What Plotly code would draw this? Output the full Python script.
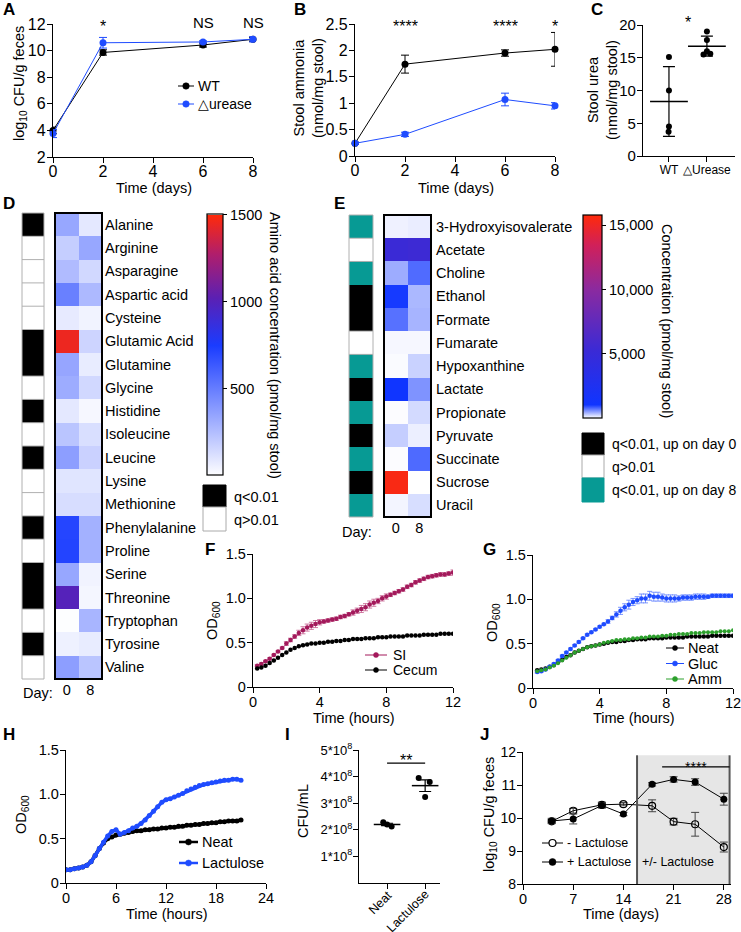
import plotly.graph_objects as go

W, H = 741, 932
FONT = "Arial, Liberation Sans, Helvetica, sans-serif"
BLUE = "#1f4cff"
MAROON = "#a3195b"
GREEN = "#2ca02c"
TEAL = "#079a94"

# ---------------- data ----------------
# A
days_A = [0, 2, 6, 8]
wt_A = [4.0, 9.86, 10.42, 10.85]
wt_A_err = [0.25, 0.2, 0.15, 0.15]
ure_A = [3.76, 10.59, 10.65, 10.85]
ure_A_err = [0.3, 0.4, 0.08, 0.2]
sig_A = ["*", "NS", "NS"]
sig_A_days = [2, 6, 8]

# B
days_B = [0, 2, 6, 8]
wt_B = [0.24, 1.74, 1.95, 2.02]
wt_B_err = [0.02, 0.17, 0.06, 0.32]
ure_B = [0.24, 0.41, 1.07, 0.95]
ure_B_err = [0.02, 0.04, 0.12, 0.06]
sig_B = ["****", "****", "*"]
sig_B_days = [2, 6, 8]

# C
groups_C = ["WT", "\u25b3Urease"]
wt_C = [15.1, 10.0, 4.5, 3.7]
ure_C = [19.0, 17.7, 16.0, 15.5, 15.6]
jit_C_wt = [0.0, 0.0, 0.0, -0.01]
jit_C_ure = [0.0, 0.0, 0.0, -0.09, 0.09]

# D
aa_names = ["Alanine", "Arginine", "Asparagine", "Aspartic acid", "Cysteine",
            "Glutamic Acid", "Glutamine", "Glycine", "Histidine", "Isoleucine",
            "Leucine", "Lysine", "Methionine", "Phenylalanine", "Proline",
            "Serine", "Threonine", "Tryptophan", "Tyrosine", "Valine"]
aa_day0 = [340, 190, 260, 490, 80, 1450, 345, 320, 90, 225,
           375, 100, 130, 715, 720, 340, 1000, 5, 55, 375]
aa_day8 = [90, 340, 150, 270, 45, 165, 75, 150, 30, 125,
           175, 100, 130, 300, 300, 45, 35, 285, 75, 225]
aa_sig = [1, 0, 0, 0, 0, 1, 1, 0, 1, 0, 1, 0, 0, 1, 0, 1, 1, 0, 1, 0]

# E
met_names = ["3-Hydroxyisovalerate", "Acetate", "Choline", "Ethanol", "Formate",
             "Fumarate", "Hypoxanthine", "Lactate", "Propionate", "Pyruvate",
             "Succinate", "Sucrose", "Uracil"]
met_day0 = [70, 5200, 420, 1000, 720, 40, 20, 1050, 15, 250, 15, 15500, 50]
met_day8 = [90, 5400, 750, 360, 380, 40, 230, 550, 190, 80, 760, 0, 170]
met_sig = [2, 0, 2, 1, 1, 0, 2, 1, 2, 1, 2, 1, 2]  # 0 q>0.01, 1 up day0, 2 up day8

# F / G time (hours)
t_FG = [0.25, 0.5, 0.75, 1.0, 1.25, 1.5, 1.75, 2.0, 2.25, 2.5, 2.75, 3.0,
        3.25, 3.5, 3.75, 4.0, 4.25, 4.5, 4.75, 5.0, 5.25, 5.5, 5.75, 6.0,
        6.25, 6.5, 6.75, 7.0, 7.25, 7.5, 7.75, 8.0, 8.25, 8.5, 8.75, 9.0,
        9.25, 9.5, 9.75, 10.0, 10.25, 10.5, 10.75, 11.0, 11.25, 11.5, 11.75, 12.0]
si_F = [.24, .26, .29, .32, .36, .40, .44, .49, .53, .57,
        .61, .64, .67, .69, .71, .73, .74, .75, .76, .77,
        .79, .80, .82, .84, .86, .88, .90, .93, .95, .97,
        1.00, 1.02, 1.04, 1.06, 1.08, 1.10, 1.13, 1.15, 1.18, 1.20,
        1.22, 1.24, 1.25, 1.26, 1.27, 1.27, 1.28, 1.29]
si_F_err = [.01, .01, .01, .01, .01, .01, .01, .02, .02, .02,
            .03, .04, .04, .04, .04, .03, .02, .02, .02, .02,
            .02, .02, .02, .03, .03, .04, .04, .04, .04, .03,
            .03, .03, .02, .02, .02, .02, .02, .02, .02, .02,
            .02, .02, .02, .02, .02, .02, .02, .03]
cec_F = [.21, .22, .24, .27, .30, .33, .36, .39, .42, .44,
         .46, .47, .48, .49, .49, .50, .50, .51, .51, .52,
         .52, .53, .53, .54, .54, .54, .55, .55, .55, .56,
         .56, .56, .57, .57, .57, .57, .58, .58, .58, .58,
         .59, .59, .59, .59, .60, .60, .60, .60]
neat_G = [.20, .21, .22, .24, .26, .29, .32, .35, .37, .40,
          .42, .44, .46, .47, .48, .49, .50, .51, .52, .52,
          .53, .53, .54, .54, .55, .55, .55, .56, .56, .56,
          .56, .57, .57, .57, .57, .57, .58, .58, .58, .58,
          .58, .58, .59, .59, .59, .59, .59, .59]
gluc_G = [.18, .19, .21, .24, .27, .31, .36, .40, .44, .48,
          .52, .56, .60, .63, .66, .69, .72, .75, .79, .83,
          .87, .91, .94, .97, .99, 1.01, 1.01, 1.04, 1.03, 1.03,
          1.02, 1.01, 1.01, 1.01, 1.01, 1.02, 1.02, 1.02, 1.03, 1.03,
          1.03, 1.03, 1.04, 1.04, 1.04, 1.04, 1.04, 1.04]
gluc_G_err = [.01, .01, .01, .01, .01, .01, .01, .01, .01, .01,
              .01, .01, .01, .01, .01, .01, .01, .02, .02, .03,
              .04, .04, .05, .04, .04, .05, .05, .05, .05, .05,
              .04, .04, .04, .04, .03, .03, .03, .03, .03, .03,
              .03, .02, .02, .02, .02, .02, .02, .02]
amm_G = [.19, .20, .21, .23, .25, .28, .31, .34, .37, .40,
         .42, .44, .46, .47, .48, .49, .51, .52, .53, .54,
         .54, .55, .55, .56, .56, .57, .57, .58, .58, .58,
         .59, .59, .60, .60, .61, .61, .61, .62, .62, .62,
         .63, .63, .63, .63, .64, .64, .64, .65]

# H
t_H = [0, 0.5, 1, 1.5, 2, 2.5, 3, 3.5, 4, 4.5, 5, 5.5, 6, 6.5, 7, 7.5, 8, 8.5,
       9, 9.5, 10, 10.5, 11, 11.5, 12, 12.5, 13, 13.5, 14, 14.5, 15, 15.5, 16,
       16.5, 17, 17.5, 18, 18.5, 19, 19.5, 20, 20.5, 21]
neat_H = [.15, .15, .16, .17, .18, .20, .24, .31, .39, .45,
          .50, .52, .54, .55, .56, .57, .58, .59, .59, .60,
          .60, .61, .61, .62, .62, .63, .63, .64, .64, .65,
          .65, .66, .66, .67, .67, .68, .68, .69, .69, .70,
          .70, .70, .71]
lac_H = [.15, .15, .16, .17, .18, .20, .24, .31, .39, .46,
         .53, .58, .60, .55, .57, .59, .62, .64, .67, .71,
         .76, .81, .86, .91, .94, .95, .97, .99, 1.01, 1.04,
         1.06, 1.08, 1.10, 1.11, 1.12, 1.13, 1.14, 1.15, 1.16, 1.16,
         1.17, 1.17, 1.16]

# I
groups_I = ["Neat", "Lactulose"]
neat_I = [2.28e8, 2.20e8, 2.12e8]
lac_I = [3.95e8, 3.80e8, 3.23e8]
jit_I_neat = [-0.1, 0.0, 0.12]
jit_I_lac = [-0.17, 0.12, 0.0]
ytick_I = [1e8, 2e8, 3e8, 4e8, 5e8]
ytext_I = ["1*10<sup>8</sup>", "2*10<sup>8</sup>", "3*10<sup>8</sup>",
           "4*10<sup>8</sup>", "5*10<sup>8</sup>"]

# J
days_J = [4, 7, 11, 14, 18, 21, 24, 28]
minus_J = [9.9, 10.22, 10.4, 10.42, 10.37, 9.89, 9.81, 9.12]
minus_J_err = [0.05, 0.07, 0.08, 0.05, 0.18, 0.1, 0.36, 0.15]
plus_J = [9.91, 9.97, 10.38, 10.12, 11.02, 11.17, 11.09, 10.57]
plus_J_err = [0.08, 0.15, 0.08, 0.05, 0.05, 0.08, 0.1, 0.18]
lactulose_period = [15.9, 28.8]
sig_J_span = [19.4, 28.8]

# ---------------- helpers ----------------
def PX(p):
    return p / W


def PY(p):
    return 1 - p / H


def dom_x(a, b):
    return [a / W, b / W]


def dom_y(top, bottom):
    return [1 - bottom / H, 1 - top / H]


def lin_axis(domain, rng, anchor, tickvals=None, tsize=14, standoff=-3, **kw):
    d = dict(domain=domain, range=rng, anchor=anchor, showline=True, linecolor="black",
             linewidth=1.3, ticks="outside", ticklen=5, tickwidth=1.3, tickcolor="black",
             showgrid=False, zeroline=False, automargin=False, ticklabeloverflow="allow",
             ticklabelstandoff=standoff, tickfont=dict(size=tsize, color="black"))
    if tickvals is not None:
        d["tickvals"] = tickvals
    d.update(kw)
    return d


def mean(v):
    return sum(v) / len(v)


def sd(v):
    m = mean(v)
    return (sum((a - m) ** 2 for a in v) / (len(v) - 1)) ** 0.5


fig = go.Figure()
annotations = []
shapes = []


def ann(text, x, y, size=14.5, bold=False, xanchor="center", yanchor="middle", angle=0, color="black"):
    annotations.append(dict(text=("<b>%s</b>" % text) if bold else text, x=PX(x), y=PY(y),
                            xref="paper", yref="paper", showarrow=False,
                            xanchor=xanchor, yanchor=yanchor, textangle=angle,
                            font=dict(size=size, color=color)))


def legend_entry(x0, x1, y, color, text, tx, size=14, msize=6.5, lw=1.0, open_=False):
    shapes.append(dict(type="line", xref="paper", yref="paper", x0=PX(x0), x1=PX(x1), y0=PY(y), y1=PY(y),
                       line=dict(color=color, width=lw)))
    cx = (x0 + x1) / 2
    r = msize / 2
    shapes.append(dict(type="circle", xref="paper", yref="paper", x0=PX(cx - r), x1=PX(cx + r),
                       y0=PY(y + r), y1=PY(y - r), fillcolor="white" if open_ else color,
                       line=dict(color=color, width=1.2 if open_ else 0.5)))
    ann(text, tx, y, size=size, xanchor="left")


# ---------------- A ----------------
fig.add_trace(go.Scatter(x=days_A, y=wt_A, mode="lines+markers", xaxis="x", yaxis="y",
                         line=dict(color="black", width=1), marker=dict(color="black", size=7),
                         error_y=dict(type="data", array=wt_A_err, color="black", thickness=1, width=4),
                         cliponaxis=False))
fig.add_trace(go.Scatter(x=days_A, y=ure_A, mode="lines+markers", xaxis="x", yaxis="y",
                         line=dict(color=BLUE, width=1), marker=dict(color=BLUE, size=7),
                         error_y=dict(type="data", array=ure_A_err, color=BLUE, thickness=1, width=4),
                         cliponaxis=False))
for d, s in zip(sig_A_days, sig_A):
    annotations.append(dict(text=s, x=d, y=PY(27 if s == "*" else 22), xref="x", yref="paper",
                            showarrow=False, yanchor="middle", font=dict(size=16 if s == "*" else 15)))
legend_entry(178, 194, 86, "black", "WT", 196, size=14)
legend_entry(178, 194, 104, BLUE, "\u25b3urease", 196, size=14)

# ---------------- B ----------------
fig.add_trace(go.Scatter(x=days_B, y=wt_B, mode="lines+markers", xaxis="x2", yaxis="y2",
                         line=dict(color="black", width=1), marker=dict(color="black", size=7),
                         error_y=dict(type="data", array=wt_B_err, color="black", thickness=1, width=4),
                         cliponaxis=False))
fig.add_trace(go.Scatter(x=days_B, y=ure_B, mode="lines+markers", xaxis="x2", yaxis="y2",
                         line=dict(color=BLUE, width=1), marker=dict(color=BLUE, size=7),
                         error_y=dict(type="data", array=ure_B_err, color=BLUE, thickness=1, width=4),
                         cliponaxis=False))
for d, s in zip(sig_B_days, sig_B):
    annotations.append(dict(text=s, x=d, y=PY(27), xref="x2", yref="paper", showarrow=False,
                            yanchor="middle", font=dict(size=16)))

# ---------------- C ----------------
for gi, (vals, jit) in enumerate([(wt_C, jit_C_wt), (ure_C, jit_C_ure)]):
    xc = gi + 1
    fig.add_trace(go.Scatter(x=[xc + j for j in jit], y=vals, mode="markers", xaxis="x3", yaxis="y3",
                             marker=dict(color="black", size=6), cliponaxis=False))
    fig.add_trace(go.Scatter(x=[xc], y=[mean(vals)], mode="markers", xaxis="x3", yaxis="y3",
                             marker=dict(symbol="line-ew", size=27, color="black",
                                         line=dict(width=1.5, color="black")),
                             error_y=dict(type="data", array=[sd(vals)], color="black", thickness=1.2, width=6)))
shapes.append(dict(type="line", xref="x3", yref="y3", x0=1, x1=2, y0=20.3, y1=20.3,
                   line=dict(color="black", width=1.2)))
annotations.append(dict(text="*", x=1.5, y=PY(22), xref="x3", yref="paper", showarrow=False,
                        yanchor="middle", font=dict(size=16)))

# ---------------- D heatmap ----------------
DSCALE = [[0, "#ffffff"], [0.5, "#1a3cff"], [0.68, "#5a20b4"], [0.85, "#b01e6c"], [1, "#ff2a0a"]]
fig.add_trace(go.Heatmap(z=[[c] for c in aa_sig], x=[0], y=list(range(len(aa_names))),
                         xaxis="x4", yaxis="y4", zmin=0, zmax=1, showscale=False,
                         colorscale=[[0, "white"], [0.5, "white"], [0.5, "black"], [1, "black"]]))
fig.add_trace(go.Heatmap(z=[[a, b] for a, b in zip(aa_day0, aa_day8)], x=["0", "8"], y=aa_names,
                         xaxis="x5", yaxis="y5", zmin=0, zmax=1500, colorscale=DSCALE,
                         colorbar=dict(x=PX(207), xanchor="left", y=PY(345), yanchor="middle",
                                       len=261, lenmode="pixels", thickness=16, thicknessmode="pixels",
                                       xpad=0, ypad=0, outlinecolor="black", outlinewidth=1.2,
                                       tickvals=[500, 1000, 1500], ticks="outside", ticklen=4,
                                       tickcolor="black", tickfont=dict(size=14.5, color="black"))))

# ---------------- E heatmap ----------------
ESCALE = [[0, "#ffffff"], [0.065, "#1035ff"], [0.33, "#3a2ad6"], [0.63, "#8a2aa0"],
          [0.85, "#d0205a"], [1, "#ff2a0a"]]
fig.add_trace(go.Heatmap(z=[[c] for c in met_sig], x=[0], y=list(range(len(met_names))),
                         xaxis="x6", yaxis="y6", zmin=0, zmax=2, showscale=False,
                         colorscale=[[0, "white"], [0.333, "white"], [0.333, "black"], [0.667, "black"],
                                     [0.667, TEAL], [1, TEAL]]))
fig.add_trace(go.Heatmap(z=[[a, b] for a, b in zip(met_day0, met_day8)], x=["0", "8"], y=met_names,
                         xaxis="x7", yaxis="y7", zmin=0, zmax=15800, colorscale=ESCALE,
                         colorbar=dict(x=PX(583), xanchor="left", y=PY(316.5), yanchor="middle",
                                       len=203, lenmode="pixels", thickness=19, thicknessmode="pixels",
                                       xpad=0, ypad=0, outlinecolor="black", outlinewidth=1.2,
                                       tickvals=[5000, 10000, 15000], ticktext=["5,000", "10,000", "15,000"],
                                       ticks="outside", ticklen=4, tickcolor="black",
                                       tickfont=dict(size=14.5, color="black"))))

# ---------------- F ----------------
fig.add_trace(go.Scatter(x=t_FG, y=si_F, mode="lines+markers", xaxis="x8", yaxis="y8",
                         line=dict(color=MAROON, width=0.6), marker=dict(color=MAROON, size=4.5),
                         error_y=dict(type="data", array=si_F_err, color="#c45a8c", thickness=0.8, width=2.5)))
fig.add_trace(go.Scatter(x=t_FG, y=cec_F, mode="lines+markers", xaxis="x8", yaxis="y8",
                         line=dict(color="black", width=0.6), marker=dict(color="black", size=4.5)))
legend_entry(365, 387, 655, MAROON, "SI", 391, size=14, msize=5)
legend_entry(365, 387, 670, "black", "Cecum", 391, size=14, msize=5)

# ---------------- G ----------------
fig.add_trace(go.Scatter(x=t_FG, y=neat_G, mode="lines+markers", xaxis="x9", yaxis="y9",
                         line=dict(color="black", width=0.6), marker=dict(color="black", size=4.5)))
fig.add_trace(go.Scatter(x=t_FG, y=gluc_G, mode="lines+markers", xaxis="x9", yaxis="y9",
                         line=dict(color=BLUE, width=0.6), marker=dict(color=BLUE, size=4.5),
                         error_y=dict(type="data", array=gluc_G_err, color="#5a7cff", thickness=0.8, width=2.5)))
fig.add_trace(go.Scatter(x=t_FG, y=amm_G, mode="lines+markers", xaxis="x9", yaxis="y9",
                         line=dict(color=GREEN, width=0.6), marker=dict(color=GREEN, size=4)))
legend_entry(666, 684, 648, "black", "Neat", 686, size=14.5, msize=5)
legend_entry(666, 684, 663.5, BLUE, "Gluc", 686, size=14.5, msize=5)
legend_entry(666, 684, 679, GREEN, "Amm", 686, size=14.5, msize=5)

# ---------------- H ----------------
fig.add_trace(go.Scatter(x=t_H, y=neat_H, mode="lines+markers", xaxis="x10", yaxis="y10",
                         line=dict(color="black", width=3.5), marker=dict(color="black", size=5)))
fig.add_trace(go.Scatter(x=t_H, y=lac_H, mode="lines+markers", xaxis="x10", yaxis="y10",
                         line=dict(color=BLUE, width=3.5), marker=dict(color=BLUE, size=5)))
legend_entry(179, 198, 842, "black", "Neat", 200, size=14.5, msize=6, lw=2.5)
legend_entry(179, 198, 863, BLUE, "Lactulose", 200, size=14.5, msize=6, lw=2.5)

# ---------------- I ----------------
for gi, (vals, jit) in enumerate([(neat_I, jit_I_neat), (lac_I, jit_I_lac)]):
    xc = gi + 1
    sem = sd(vals) / len(vals) ** 0.5
    fig.add_trace(go.Scatter(x=[xc + j for j in jit], y=vals, mode="markers", xaxis="x11", yaxis="y11",
                             marker=dict(color="black", size=6)))
    fig.add_trace(go.Scatter(x=[xc], y=[mean(vals)], mode="markers", xaxis="x11", yaxis="y11",
                             marker=dict(symbol="line-ew", size=19, color="black",
                                         line=dict(width=1.5, color="black")),
                             error_y=dict(type="data", array=[sem], color="black", thickness=1.2, width=6)))
shapes.append(dict(type="line", xref="x11", yref="y11", x0=1, x1=2, y0=4.51e8, y1=4.51e8,
                   line=dict(color="black", width=1.2)))
annotations.append(dict(text="**", x=1.5, y=PY(760), xref="x11", yref="paper", showarrow=False,
                        yanchor="middle", font=dict(size=16)))
# rotated category labels of panel I (placed under their ticks)
for gi, (g, cy, dxo) in enumerate(zip(groups_I, [903, 911], [-7, -17])):
    annotations.append(dict(text=g, x=gi + 1, y=PY(cy), xref="x11", yref="paper", xshift=dxo,
                            xanchor="center", yanchor="middle",
                            showarrow=False, textangle=-45, font=dict(size=12.5, color="black")))

# ---------------- J ----------------
shapes.append(dict(type="rect", xref="x12", yref="y12", x0=lactulose_period[0], x1=lactulose_period[1],
                   y0=8, y1=11.9, fillcolor="#e6e6e6", line=dict(width=0), layer="below"))
for xv in lactulose_period:
    shapes.append(dict(type="line", xref="x12", yref="y12", x0=xv, x1=xv, y0=8, y1=11.9,
                       line=dict(color="#555555", width=2)))
shapes.append(dict(type="line", xref="x12", yref="y12", x0=sig_J_span[0], x1=sig_J_span[1],
                   y0=11.55, y1=11.55, line=dict(color="black", width=1.2)))
annotations.append(dict(text="****", x=mean(sig_J_span), y=PY(767), xref="x12", yref="paper",
                        showarrow=False, yanchor="middle", font=dict(size=14)))
fig.add_trace(go.Scatter(x=days_J, y=minus_J, mode="lines+markers", xaxis="x12", yaxis="y12",
                         line=dict(color="black", width=1),
                         marker=dict(color="black", size=7, symbol="circle-open", line=dict(width=1.2)),
                         error_y=dict(type="data", array=minus_J_err, color="#444444", thickness=1, width=4)))
fig.add_trace(go.Scatter(x=days_J, y=plus_J, mode="lines+markers", xaxis="x12", yaxis="y12",
                         line=dict(color="black", width=1), marker=dict(color="black", size=7),
                         error_y=dict(type="data", array=plus_J_err, color="#444444", thickness=1, width=4)))
legend_entry(542, 563, 843, "black", "- Lactulose", 565, size=12.5, msize=7, open_=True)
legend_entry(542, 563, 862, "black", "+ Lactulose", 565, size=12.5, msize=7)
ann("+/- Lactulose", 678, 862, size=12.5)

# ---------------- heatmap decorations ----------------
def annot_lines(codes, xr, yr):
    for i in range(len(codes) - 1):
        if codes[i] == 0 or codes[i + 1] == 0:
            shapes.append(dict(type="line", xref=xr + " domain", yref=yr, x0=0, x1=1,
                               y0=i + 0.5, y1=i + 0.5, line=dict(color="#b0b0b0", width=1)))
    shapes.append(dict(type="rect", xref=xr + " domain", yref=yr + " domain", x0=0, x1=1, y0=0, y1=1,
                       line=dict(color="#b0b0b0", width=1)))


annot_lines(aa_sig, "x4", "y4")
annot_lines(met_sig, "x6", "y6")
for xr, yr in [("x5", "y5"), ("x7", "y7")]:
    shapes.append(dict(type="rect", xref=xr + " domain", yref=yr + " domain", x0=0, x1=1, y0=0, y1=1,
                       line=dict(color="black", width=2)))


def qbox(x0, x1, y0, y1, fill, border="black"):
    shapes.append(dict(type="rect", xref="paper", yref="paper", x0=PX(x0), x1=PX(x1), y0=PY(y1), y1=PY(y0),
                       fillcolor=fill, line=dict(color=border, width=1)))


qbox(203, 226, 485, 507, "black")
qbox(203, 226, 507, 531, "white", "#aaaaaa")
ann("q<0.01", 232, 497, size=14.5, xanchor="left")
ann("q>0.01", 232, 520, size=14.5, xanchor="left")
qbox(582, 604, 433, 455, "black")
qbox(582, 604, 455, 478, "white", "#aaaaaa")
qbox(582, 604, 478, 502, TEAL, TEAL)
ann("q<0.01, up on day 0", 610, 444, size=14, xanchor="left")
ann("q>0.01", 610, 467, size=14, xanchor="left")
ann("q<0.01, up on day 8", 610, 490, size=14, xanchor="left")

ann("Amino acid concentration (pmol/mg stool)", 275, 345, size=14.5, angle=90)
ann("Concentration (pmol/mg stool)", 667, 321, size=14.5, angle=90)
ann("Day:", 38, 693, size=14.5)
ann("Day:", 357, 532, size=14.5)

# axis titles
ann("log<sub>10</sub> CFU/g feces", 20, 84, angle=-90)
ann("Time (days)", 154, 188)
ann("Stool ammonia<br>(nmol/mg stool)", 308, 88, angle=-90)
ann("Time (days)", 456, 188)
ann("Stool urea<br>(nmol/mg stool)", 603, 90, angle=-90)
ann("OD<sub>600</sub>", 213, 621, angle=-90)
ann("Time (hours)", 354, 718)
ann("OD<sub>600</sub>", 493, 622, angle=-90)
ann("Time (hours)", 634, 718)
ann("OD<sub>600</sub>", 22, 815, angle=-90)
ann("Time (hours)", 167, 914)
ann("CFU/mL", 303, 811, angle=-90)
ann("log<sub>10</sub> CFU/g feces", 490, 815, angle=-90)
ann("Time (days)", 621, 914)

# panel letters
for letter, x, y in [("A", 1, 10), ("B", 292, 10), ("C", 589, 10), ("D", 1, 204), ("E", 332, 204),
                     ("F", 203, 549), ("G", 481, 549), ("H", 1, 734), ("I", 283, 734), ("J", 478, 734)]:
    ann(letter, x, y, size=17, bold=True, xanchor="left")

# ---------------- layout ----------------
hide = dict(showline=False, showgrid=False, zeroline=False, ticks="", showticklabels=False, automargin=False)
OD_TT = ["0", "0.5", "1.0", "1.5"]
layout = dict(
    template="none",
    width=W, height=H, margin=dict(l=0, r=0, t=0, b=0), autosize=False,
    paper_bgcolor="white", plot_bgcolor="white", showlegend=False,
    font=dict(family=FONT, color="black", size=14),
    xaxis=lin_axis(dom_x(53, 253), [0, 8], "y", [0, 2, 4, 6, 8], 16, -5),
    yaxis=lin_axis(dom_y(24, 157), [2, 12], "x", [2, 4, 6, 8, 10, 12], 16, -2),
    xaxis2=lin_axis(dom_x(355, 555), [0, 8], "y2", [0, 2, 4, 6, 8], 16, -5),
    yaxis2=lin_axis(dom_y(24, 156), [0, 2.5], "x2", [0, 0.5, 1, 1.5, 2, 2.5], 16, -2),
    xaxis3=lin_axis(dom_x(643, 735), [0.316, 2.74], "y3", [1, 2], 12, -3, ticktext=groups_C),
    yaxis3=lin_axis(dom_y(25, 156), [0, 20], "x3", [0, 5, 10, 15, 20], 15, -2),
    xaxis4=dict(domain=dom_x(22, 44), anchor="y4", range=[-0.5, 0.5], **hide),
    yaxis4=dict(domain=dom_y(213, 679), anchor="x4", range=[len(aa_names) - 0.5, -0.5], **hide),
    xaxis5=dict(domain=dom_x(55, 102), anchor="y5", showline=False, showgrid=False, zeroline=False,
                ticks="", tickfont=dict(size=14.5, color="black"), type="category", automargin=False),
    yaxis5=dict(domain=dom_y(213, 679), anchor="x5", side="right", range=[len(aa_names) - 0.5, -0.5],
                showline=False, showgrid=False, zeroline=False, ticks="", type="category", automargin=False,
                ticklabelstandoff=2, tickfont=dict(size=14.5, color="black")),
    xaxis6=dict(domain=dom_x(349, 373), anchor="y6", range=[-0.5, 0.5], **hide),
    yaxis6=dict(domain=dom_y(215, 517), anchor="x6", range=[len(met_names) - 0.5, -0.5], **hide),
    xaxis7=dict(domain=dom_x(384, 431), anchor="y7", showline=False, showgrid=False, zeroline=False,
                ticks="", tickfont=dict(size=14.5, color="black"), type="category", automargin=False),
    yaxis7=dict(domain=dom_y(215, 517), anchor="x7", side="right", range=[len(met_names) - 0.5, -0.5],
                showline=False, showgrid=False, zeroline=False, ticks="", type="category", automargin=False,
                ticklabelstandoff=4, tickfont=dict(size=14.5, color="black")),
    xaxis8=lin_axis(dom_x(253, 453), [0, 12], "y8", [0, 4, 8, 12], 14.5, -4),
    yaxis8=lin_axis(dom_y(554, 687), [0, 1.5], "x8", [0, 0.5, 1.0, 1.5], 14.5, -2, ticktext=OD_TT),
    xaxis9=lin_axis(dom_x(533, 733), [0, 12], "y9", [0, 4, 8, 12], 14.5, -4),
    yaxis9=lin_axis(dom_y(555, 688), [0, 1.5], "x9", [0, 0.5, 1.0, 1.5], 14.5, -2, ticktext=OD_TT),
    xaxis10=lin_axis(dom_x(66, 266), [0, 24], "y10", [0, 6, 12, 18, 24], 14.5, -4),
    yaxis10=lin_axis(dom_y(750, 883), [0, 1.5], "x10", [0, 0.5, 1.0, 1.5], 14.5, -2, ticktext=OD_TT),
    xaxis11=lin_axis(dom_x(359, 440), [0.263, 2.39], "y11", [1, 2], 13, 0, showticklabels=False),
    yaxis11=lin_axis(dom_y(750, 883), [0, 5e8], "x11", ytick_I, 13, -2, ticktext=ytext_I),
    xaxis12=lin_axis(dom_x(523, 731), [0, 29], "y12", [0, 7, 14, 21, 28], 14.5, -4),
    yaxis12=lin_axis(dom_y(752, 884), [8, 12], "x12", [8, 9, 10, 11, 12], 14, -2),
    annotations=annotations,
    shapes=shapes,
)
fig.update_layout(**layout)
fig.write_html("out.html", config={"displayModeBar": False},
               post_script="document.body.style.margin='0px';document.body.style.padding='0px';"
                           "document.body.style.overflow='hidden';")
